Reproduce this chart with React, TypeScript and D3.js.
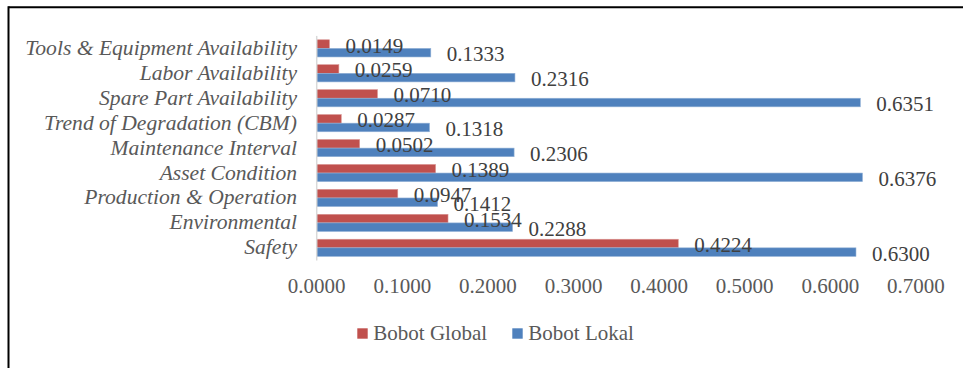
import React from "react";
import * as d3 from "d3";

const categories = [
  "Tools & Equipment Availability",
  "Labor Availability",
  "Spare Part Availability",
  "Trend of Degradation (CBM)",
  "Maintenance Interval",
  "Asset Condition",
  "Production & Operation",
  "Environmental",
  "Safety",
];
const bobotGlobal = [0.0149, 0.0259, 0.071, 0.0287, 0.0502, 0.1389, 0.0947, 0.1534, 0.4224];
const bobotLokal = [0.1333, 0.2316, 0.6351, 0.1318, 0.2306, 0.6376, 0.1412, 0.2288, 0.63];
const xTicks = [0, 0.1, 0.2, 0.3, 0.4, 0.5, 0.6, 0.7];
const seriesNames = ["Bobot Global", "Bobot Lokal"];
const seriesColors = ["#C0504D", "#4F81BD"];

const W = 963;
const H = 368;
const FONT = "'Times New Roman', 'Liberation Serif', serif";

export default function App() {
  const x = d3.scaleLinear().domain([0, 0.7]).range([316.7, 915.9]);
  const y = d3.scaleBand().domain(categories).range([35.9, 260.3]).paddingInner(0.31).paddingOuter(0.155);
  const sub = d3.scaleBand().domain(seriesNames).range([0, y.bandwidth()]);
  const fmt = d3.format(".4f");
  const series = [bobotGlobal, bobotLokal];

  const legendX = [357.3, 512.3];

  return (
    <svg
      width={W}
      height={H}
      style={{ position: "absolute", left: 0, top: 0, fontFamily: FONT }}
    >
      <rect x={0} y={0} width={W} height={H} fill="#fff" />
      {/* frame */}
      <line x1={8.5} y1={7.3} x2={W + 5} y2={7.3} stroke="#000" strokeWidth={2} />
      <line x1={8.5} y1={6.3} x2={8.5} y2={H + 5} stroke="#000" strokeWidth={2} />

      {/* bars */}
      {series.map((vals, si) =>
        vals.map((v, i) => {
          const yy = (y(categories[i]) as number) + (sub(seriesNames[si]) as number);
          return (
            <rect
              key={`b${si}-${i}`}
              x={x(0)}
              y={yy}
              width={x(v) - x(0)}
              height={sub.bandwidth()}
              fill={seriesColors[si]}
              stroke={si === 0 ? "#d99694" : "#95b3d7"}
              strokeWidth={0.6}
            />
          );
        })
      )}

      {/* axis line */}
      <line x1={x(0)} x2={x(0)} y1={35.9} y2={260.5} stroke="#d9d9d9" strokeWidth={1.5} />

      {/* data labels */}
      {series.map((vals, si) =>
        vals.map((v, i) => {
          const yy =
            (y(categories[i]) as number) + (sub(seriesNames[si]) as number) + sub.bandwidth() / 2;
          return (
            <text
              key={`l${si}-${i}`}
              x={x(v) + 16}
              y={yy + 8.5}
              fontSize={21}
              fill="#404040"
            >
              {fmt(v)}
            </text>
          );
        })
      )}

      {/* category labels */}
      {categories.map((c) => (
        <text
          key={c}
          x={297}
          y={(y(c) as number) + y.bandwidth() / 2 + 6.5}
          textAnchor="end"
          fontSize={21.6}
          fontStyle="italic"
          fill="#595959"
        >
          {c}
        </text>
      ))}

      {/* x tick labels */}
      {xTicks.map((t) => (
        <text key={t} x={x(t)} y={293.3} textAnchor="middle" fontSize={21} fill="#595959">
          {fmt(t)}
        </text>
      ))}

      {/* legend */}
      {seriesNames.map((n, i) => (
        <g key={n} transform={`translate(${legendX[i]},0)`}>
          <rect x={0} y={328.3} width={10.4} height={10.4} fill={seriesColors[i]} />
          <text x={16} y={340} fontSize={21} fill="#595959">
            {n}
          </text>
        </g>
      ))}
    </svg>
  );
}
